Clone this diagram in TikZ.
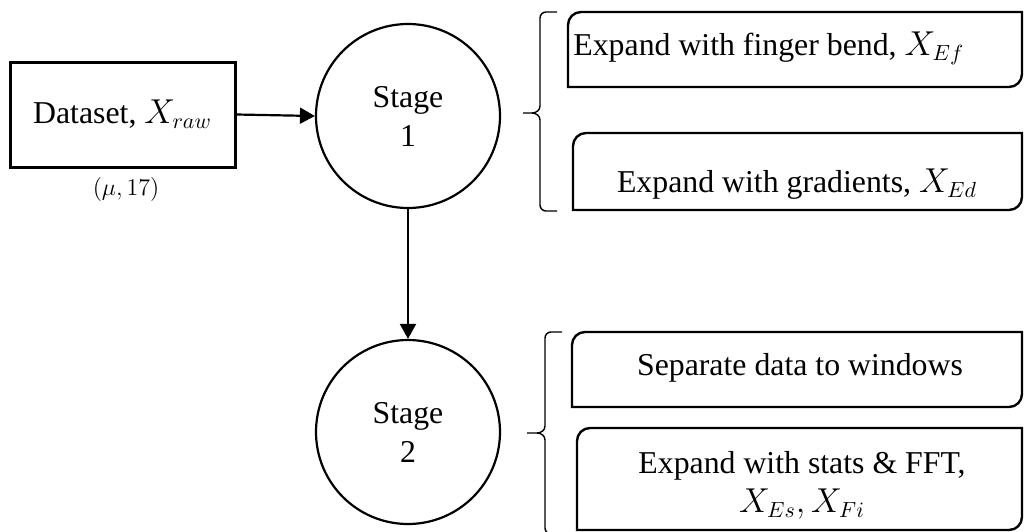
\documentclass[tikz,border=0pt]{standalone}
\usepackage{fontspec}
\setmainfont{Liberation Serif}
\usetikzlibrary{arrows.meta,calc,fit}

% frame with the top-left and bottom-right corners rounded (radius 13 units)
\newcommand\halfroundframe[1]{%
  \draw[frameline] (#1.south west) -- ($(#1.north west)+(0,13)$)
    .. controls ($(#1.north west)+(0,5.8)$) and ($(#1.north west)+(5.8,0)$) .. ($(#1.north west)+(13,0)$)
    -- (#1.north east) -- ($(#1.south east)+(0,-13)$)
    .. controls ($(#1.south east)+(0,-5.8)$) and ($(#1.south east)+(-5.8,0)$) .. ($(#1.south east)+(-13,0)$) -- cycle;}

\tikzset{
  basefont/.style={font=\fontsize{15.9}{19.5}\selectfont},
  txt/.style={basefont, inner sep=0pt},
  databox/.style={basefont, draw, line width=1.5pt, minimum width=112.5pt, minimum height=52.5pt, inner sep=0pt},
  stagenode/.style={basefont, circle, draw, line width=1.1pt, minimum size=92pt, inner sep=0pt, align=center},
  frame/.style={inner sep=0pt, outer sep=0pt},
  frameline/.style={line width=1.2pt},
  braceline/.style={line width=0.7pt},
  flow/.style={line width=1.1pt, -{Triangle[length=7.5pt,width=8pt]}}
}

\begin{document}
\begin{tikzpicture}[x=0.5pt,y=-0.5pt]
\useasboundingbox (0,0) rectangle (1024,531);
\clip (0,0) rectangle (1024,531);

% input data and the two stages
\node[databox] (data) at (122.5,114.5) {Dataset, $X_{raw}$};
\node[txt, font=\fontsize{11.5}{14}\selectfont, anchor=base] (dims) at (126,195) {$(\mu, 17)$};
\node[stagenode] (s1) at (408,116) {Stage\\1};
\node[stagenode] (s2) at (408,432) {Stage\\2};

\draw[flow] (data.east) -- (s1.west);
\draw[flow] (s1.south) -- (s2.north);

% stage 1 operations
\node[frame, fit={(568,12) (1022,87)}] (boxA) {};
\node[frame, fit={(573,133) (1022,210)}] (boxB) {};
\halfroundframe{boxA}
\halfroundframe{boxB}
\node[txt, anchor=base west] (tA) at (573,55) {Expand with finger bend, $X_{Ef}$};
\node[txt, anchor=base] (tB) at (797,192) {Expand with gradients, $X_{Ed}$};

% stage 2 operations
\node[frame, fit={(572,332) (1022,407)}] (boxC) {};
\node[frame, fit={(577,428) (1022,530)}] (boxD) {};
\halfroundframe{boxC}
\halfroundframe{boxD}
\node[txt, anchor=base] (tC) at (800,375) {Separate data to windows};
\node[txt, align=center] (tD) at (802,485) {Expand with stats \& FFT,\\$X_{Es}, X_{Fi}$};

% braces grouping each stage's operations
\coordinate (b1top) at (557,12);
\coordinate (b1tip) at (523,113);
\coordinate (b1bot) at (557,211);
\draw[braceline] (b1top) -- (546,12) to[out=180,in=90] (540,18) -- (540,106)
  to[out=-90,in=0] (532,113) -- (b1tip);
\draw[braceline] (532,113) to[out=0,in=90] (540,120) -- (540,205)
  to[out=-90,in=180] (546,211) -- (b1bot);

\coordinate (b2top) at (562,332);
\coordinate (b2tip) at (527,433);
\coordinate (b2bot) at (562,534);
\draw[braceline] (b2top) -- (551,332) to[out=180,in=90] (545,338) -- (545,426)
  to[out=-90,in=0] (537,433) -- (b2tip);
\draw[braceline] (537,433) to[out=0,in=90] (545,440) -- (545,528)
  to[out=-90,in=180] (551,534) -- (b2bot);
\end{tikzpicture}
\end{document}
